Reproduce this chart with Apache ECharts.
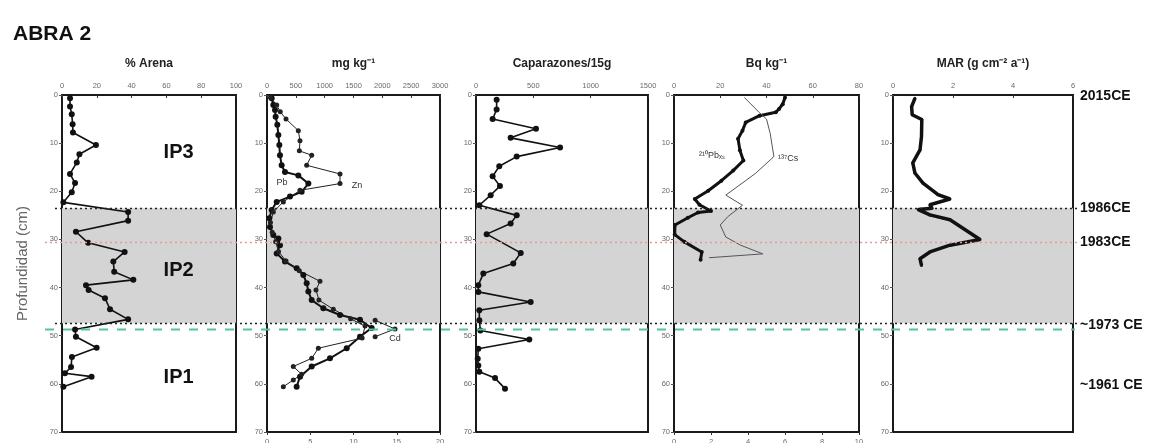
<!DOCTYPE html>
<html><head><meta charset="utf-8">
<script src="https://cdn.jsdelivr.net/npm/echarts@6/dist/echarts.min.js"></script>
<style>html,body{margin:0;padding:0;background:#fff}#c{width:1155px;height:443px}</style>
</head><body><div id="c"></div>
<script>
// ---- data (depth in cm) ----
const arenaDepth=[0.7,2.4,4.0,6.1,7.8,10.4,12.3,14.0,16.4,18.3,20.2,22.3,24.3,26.1,28.4,30.7,32.6,34.6,36.7,38.4,39.5,40.5,42.2,44.5,46.6,48.7,50.2,52.5,54.4,56.5,57.8,58.5,60.6];
const arenaPct=[4.6,4.6,5.6,6.1,6.3,19.5,10,8.5,4.6,7.5,5.6,0.8,38,38,8,15,36,29.5,30,41,13.8,15.3,24.7,27.6,38,7.5,8,19.9,5.7,5.2,1.7,17,0.8];

const pbDepth=[0.7,2.1,3.1,4.5,6.2,8.3,10.4,12.5,14.6,16.0,16.7,18.4,20.1,21.1,22.2,23.9,25.6,27.4,29.1,29.8,31.2,32.9,34.6,36.0,37.4,39.1,40.8,42.6,44.3,45.7,46.7,48.4,50.2,52.6,54.7,56.4,58.5,60.6];
const pbVal=[81,110,139,150,179,197,214,225,254,312,543,717,601,399,168,81,40,52,110,197,225,168,312,515,630,688,717,775,977,1266,1613,1815,1613,1382,1092,775,572,514];

const znDepth=[0.5,2.1,3.5,5.0,7.4,9.5,11.6,12.5,14.6,16.4,18.4,19.8,22.2,24.3,26.5,28.5,30.5,32.5,34.5,36.5,38.7,40.5,42.6,44.5,46.5,48.0,50.5,52.6,54.7,56.4,58.0,59.2,60.6];
const znVal=[60,168,230,330,543,572,561,775,688,1266,1266,572,283,110,60,90,150,200,330,560,919,850,900,1150,1450,1700,1650,890,775,456,601,456,283];

const cdDepth=[46.8,48.6,50.2];
const cdVal=[12.5,14.8,12.5];

const capaDepth=[1,3,5,7,8.9,10.9,12.8,14.8,16.9,18.9,20.8,22.9,25,26.7,28.9,32.8,35.0,37.1,39.5,40.9,43.0,44.7,46.8,48.9,50.8,52.7,54.8,56.2,57.5,58.8,61.0];
const capaVal=[180,180,145,523,302,733,355,203,145,209,128,29,355,302,93,390,325,64,20,20,477,29,29,38,465,20,15,20,29,166,253];

const pb210Depth=[0.5,1.9,2.9,3.6,4.3,5.7,7.4,9.1,11.5,13.6,15.7,17.8,19.9,21.6,22.8,24.1,24.4,25.5,27.0,29.0,30.5,32.6,34.2];
const pb210Val=[48,47,45.4,44,37,31,29.6,27.7,28.5,30,25.6,20.5,14.8,9,11,16,10.4,6,0.4,0.3,4.5,12,11.5];

const cs137Depth=[0.5,3.6,5.0,8.0,12.8,16.3,20.8,22.9,25.3,27.0,29.5,31.2,33.0,33.8];
const cs137Val=[3.8,4.6,5.0,5.2,5.4,4.4,2.8,3.7,2.9,2.5,2.8,3.6,4.8,1.9];

const marDepth=[0.7,2.4,4.1,5.1,8.6,11.4,14.1,16.2,18.3,20.7,21.6,22.8,23.5,23.8,24.9,25.9,30.0,31.2,32.6,34.0,35.4];
const marVal=[0.73,0.62,0.64,0.96,0.95,0.9,0.66,0.73,1.0,1.5,1.9,1.23,1.3,0.84,1.23,1.9,2.9,1.9,1.23,0.9,0.95];

const panelTitles=['% Arena','mg kg⁻¹','Caparazones/15g','Bq kg⁻¹','MAR (g cm⁻² a⁻¹)'];
const zoneTop=23.5, zoneBottom=47.4, redLine=30.5, greenLine=48.7;
const dateLabels=['2015CE','1986CE','1983CE','~1973 CE','~1961 CE'];
const dateDepths=[0.2,23.5,30.5,47.9,60.3];

// ---- chart ----
const zip=(d,v)=>d.map((y,i)=>[v[i],y]);
const chart=echarts.init(document.getElementById('c'));
const FONT='Liberation Sans';
const gridsPos=[[62,174],[267,173],[476,172],[674,185],[893,180]];
const grid=gridsPos.map(p=>({left:p[0],width:p[1],top:95,height:337,containLabel:false,outerBoundsMode:'none',show:true,borderColor:'#1a1a1a',borderWidth:2,backgroundColor:'transparent'}));
const tickLbl={fontSize:7.5,color:'#6a6a6a',fontFamily:FONT,formatter:v=>String(v)};
function xTop(gi,min,max,interval,name){
  return {type:'value',gridIndex:gi,position:'top',min,max,interval,name,nameLocation:'middle',nameGap:25,
    nameTextStyle:{fontSize:12,fontWeight:'bold',color:'#222',fontFamily:FONT},
    axisLine:{show:false},splitLine:{show:false},axisTick:{show:true,inside:true,length:3,lineStyle:{color:'#333'}},
    axisLabel:Object.assign({margin:5},tickLbl)};
}
function xBot(gi,min,max,interval){
  return {type:'value',gridIndex:gi,position:'bottom',min,max,interval,
    axisLine:{show:false},splitLine:{show:false},axisTick:{show:true,inside:false,length:3,lineStyle:{color:'#333'}},
    axisLabel:Object.assign({margin:6},tickLbl)};
}
const xAxis=[
  xTop(0,0,100,20,panelTitles[0]),
  xTop(1,0,3000,500,panelTitles[1]),
  xBot(1,0,20,5),
  xTop(2,0,1500,500,panelTitles[2]),
  xTop(3,0,80,20,panelTitles[3]),
  xBot(3,0,10,2),
  xTop(4,0,6,2,panelTitles[4])
];
const yAxis=gridsPos.map((p,i)=>({type:'value',gridIndex:i,inverse:true,min:0,max:70,interval:10,
  axisLine:{show:false},splitLine:{show:false},axisTick:{show:true,length:3,lineStyle:{color:'#555'}},
  axisLabel:Object.assign({margin:4},tickLbl),
  name:i===0?'Profundidad (cm)':'',nameLocation:'middle',nameGap:32,
  nameTextStyle:{fontSize:15,color:'#666',fontFamily:FONT}}));
const shade={silent:true,itemStyle:{color:'#d4d4d4'},data:[[{yAxis:zoneTop},{yAxis:zoneBottom}]]};
function ln(name,xi,yi,data,w,sym,color){
  return {name,type:'line',xAxisIndex:xi,yAxisIndex:yi,data,symbol:sym?'circle':'none',symbolSize:sym||0,
    lineStyle:{width:w,color:color||'#111'},itemStyle:{color:color||'#111'},z:3,silent:true};
}
const series=[
  Object.assign(ln('% Arena',0,0,zip(arenaDepth,arenaPct),1.6,6),{markArea:shade}),
  Object.assign(ln('Pb',1,1,zip(pbDepth,pbVal),2,6),{markArea:shade}),
  ln('Zn',1,1,zip(znDepth,znVal),1,5,'#222'),
  ln('Cd',2,1,zip(cdDepth,cdVal),1,5,'#222'),
  Object.assign(ln('Caparazones',3,2,zip(capaDepth,capaVal),1.6,6),{markArea:shade}),
  Object.assign(ln('210Pbxs',4,3,zip(pb210Depth,pb210Val),3,4),{markArea:shade}),
  ln('137Cs',5,3,zip(cs137Depth,cs137Val),1,0,'#555'),
  Object.assign(ln('MAR',6,4,zip(marDepth,marVal),3.5,3),{markArea:shade})
];
chart.setOption({animation:false,
  title:{text:'ABRA 2',left:8,top:19,textStyle:{fontSize:21,fontWeight:900,color:'#111',fontFamily:FONT}},
  grid,xAxis,yAxis,series});

// ---- overlays placed via the library's scales ----
const yp=d=>chart.convertToPixel({yAxisIndex:0},d);
const px=(xi,v,yi,d)=>chart.convertToPixel({xAxisIndex:xi,yAxisIndex:yi},[v,d]);
const g=[];
function hline(d,x1,x2,color,dash,w){
  const y=Math.round(yp(d))+0.5;
  g.push({type:'line',z:50,silent:true,shape:{x1,y1:y,x2,y2:y},style:{stroke:color,lineWidth:w,lineDash:dash}});
}
hline(zoneTop,55,1078,'#222',[2,3],1.5);
hline(zoneBottom,55,1078,'#222',[2,3],1.5);
hline(redLine,45,1078,'#e39a9a',[2,3],1.5);
hline(greenLine,45,1075,'#56c49a',[9,9],2.2);
function txt(x,y,t,size,weight,color,align){
  g.push({type:'text',z:60,silent:true,x,y,style:{text:t,fontSize:size,fontWeight:weight,fill:color,fontFamily:FONT,align:align||'center',verticalAlign:'middle'}});
}
const ipLbl=[['IP3',12],['IP2',36.4],['IP1',58.6]];
ipLbl.forEach(l=>{const p=px(0,67,0,l[1]);txt(p[0],p[1],l[0],20,'bold','#111');});
dateLabels.forEach((t,i)=>txt(1080,yp(dateDepths[i]),t,14,'bold','#111','left'));
let p;
p=px(1,262,1,18.1);txt(p[0],p[1],'Pb',9,'normal','#333');
p=px(1,1560,1,18.8);txt(p[0],p[1],'Zn',9,'normal','#333');
p=px(1,2220,1,50.6);txt(p[0],p[1],'Cd',9,'normal','#333');
p=px(4,16.4,3,12.5);txt(p[0],p[1],'²¹⁰Pbₓₛ',9,'normal','#333');
p=px(4,49.3,3,13.1);txt(p[0],p[1],'¹³⁷Cs',9,'normal','#333');
chart.setOption({graphic:g});
</script></body></html>
